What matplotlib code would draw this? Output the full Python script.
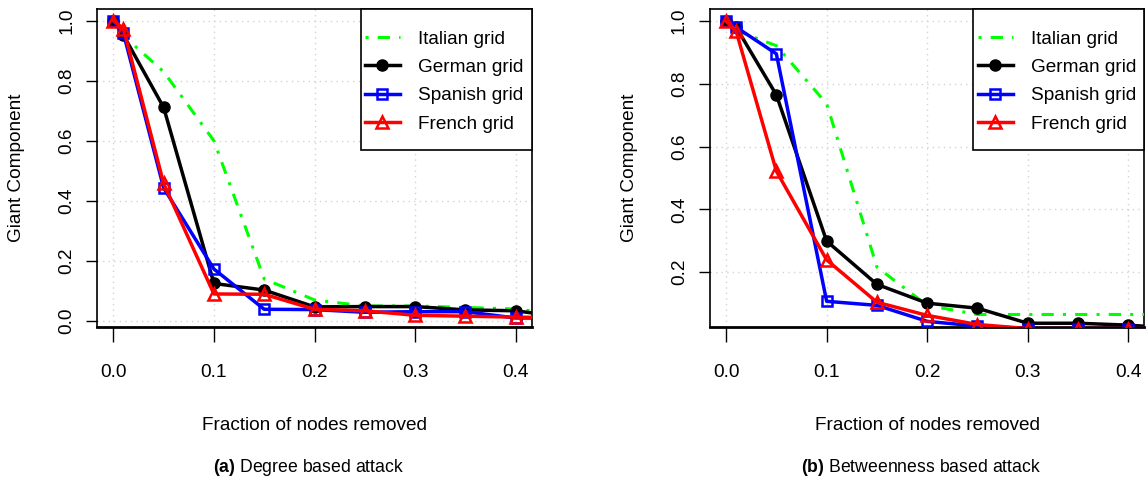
import matplotlib
matplotlib.use("Agg")
import matplotlib.pyplot as plt
from matplotlib.patches import Rectangle

plt.rcParams['font.family'] = ['Liberation Sans', 'DejaVu Sans']
plt.rcParams['mathtext.fontset'] = 'custom'
plt.rcParams['mathtext.rm'] = 'Liberation Sans'
plt.rcParams['mathtext.bf'] = 'Liberation Sans:bold'

# fraction of nodes removed
frac = [0.0, 0.01, 0.05, 0.10, 0.15, 0.20, 0.25, 0.30, 0.35, 0.40, 0.45]

# (a) degree based attack
deg_italian = [1.0, 0.95, 0.83, 0.60, 0.14, 0.07, 0.05, 0.05, 0.045, 0.04, 0.02]
deg_german = [1.0, 0.952, 0.711, 0.125, 0.103, 0.047, 0.048, 0.048, 0.037, 0.034, 0.012]
deg_spanish = [1.0, 0.958, 0.443, 0.173, 0.039, 0.038, 0.029, 0.031, 0.031, 0.010, 0.010]
deg_french = [1.0, 0.974, 0.458, 0.090, 0.089, 0.039, 0.034, 0.019, 0.016, 0.013, 0.010]

# (b) betweenness based attack
btw_italian = [1.0, 0.97, 0.922, 0.737, 0.216, 0.094, 0.065, 0.065, 0.065, 0.065, 0.065]
btw_german = [1.0, 0.981, 0.765, 0.299, 0.161, 0.101, 0.085, 0.037, 0.037, 0.031, 0.02]
btw_spanish = [1.0, 0.981, 0.896, 0.107, 0.094, 0.043, 0.028, 0.02, 0.02, 0.02, 0.02]
btw_french = [1.0, 0.968, 0.522, 0.239, 0.104, 0.062, 0.033, 0.02, 0.02, 0.02, 0.02]

xticks = [0.0, 0.1, 0.2, 0.3, 0.4]
yticks_a = [0.0, 0.2, 0.4, 0.6, 0.8, 1.0]
yticks_b = [0.2, 0.4, 0.6, 0.8, 1.0]
names = ['Italian grid', 'German grid', 'Spanish grid', 'French grid']

W, H = 1146, 483
fig = plt.figure(figsize=(W / 100, H / 100), dpi=100)

FS = 13.7


def draw_panel(rect, italian, german, spanish, french, yticks, ylim, caption, ylab_x):
    ax = fig.add_axes(rect)
    ax.plot(frac, italian, color='#00ff00', lw=2.2, ls=(0, (1, 3, 4, 3)), label=names[0], zorder=3)
    ax.plot(frac, german, color='black', lw=2.5, marker='o', ms=8, label=names[1], zorder=3)
    ax.plot(frac, spanish, color='#0000ff', lw=2.5, marker='s', ms=7, mfc='none', mew=1.8,
            label=names[2], zorder=3)
    ax.plot(frac, french, color='#ff0000', lw=2.5, marker='^', ms=9, mfc='none', mew=1.8,
            label=names[3], zorder=3)

    ax.set_xlim(-0.016, 0.416)
    ax.set_ylim(*ylim)
    ax.set_xticks(xticks)
    ax.set_xticklabels(['%.1f' % t for t in xticks])
    ax.set_yticks(yticks)
    ax.set_yticklabels(['%.1f' % t for t in yticks])
    ax.grid(True, color='#d3d3d3', lw=1.0, ls=(0, (1, 3)), zorder=0)

    ax.tick_params(axis='x', length=10.8, width=1.0, pad=16, labelsize=FS)
    ax.tick_params(axis='y', length=7.9, width=1.0, pad=8, labelsize=FS, labelrotation=90)
    for lab in ax.get_yticklabels():
        lab.set_va('center')
    for s in ['left', 'right', 'top']:
        ax.spines[s].set_linewidth(1.2)
    ax.spines['bottom'].set_linewidth(2.0)

    # legend box like R legend()
    ax.add_patch(Rectangle((0.606, 0.556), 0.394, 0.444, transform=ax.transAxes,
                           facecolor='white', edgecolor='black', lw=1.2, zorder=4, clip_on=False))
    leg = ax.legend(loc='center left', bbox_to_anchor=(0.616, 0.772), frameon=False,
                    fontsize=FS, borderpad=0, borderaxespad=0, handlelength=1.85,
                    handletextpad=0.95, labelspacing=0.58, numpoints=1)
    leg.set_zorder(5)

    cx = rect[0] + rect[2] / 2
    fig.text(cx, 1 - 426 / H, 'Fraction of nodes removed', ha='center', va='center', fontsize=FS)
    fig.text(cx - 6 / W, 1 - 468 / H, caption, ha='center', va='center', fontsize=12.7)
    fig.text(ylab_x / W, 1 - 168 / H, 'Giant Component', rotation=90, ha='center', va='center',
             fontsize=FS)
    return ax


bottom = 156.3 / H
height = 317.7 / H
width = 434.4 / W

draw_panel([97.3 / W, bottom, width, height], deg_italian, deg_german, deg_spanish, deg_french,
           yticks_a, (-0.019, 1.039), r'$\bf{(a)}$ Degree based attack', 17)
draw_panel([710 / W, bottom, width, height], btw_italian, btw_german, btw_spanish, btw_french,
           yticks_b, (0.026, 1.039), r'$\bf{(b)}$ Betweenness based attack', 629)

fig.savefig('out.png', dpi=100)
